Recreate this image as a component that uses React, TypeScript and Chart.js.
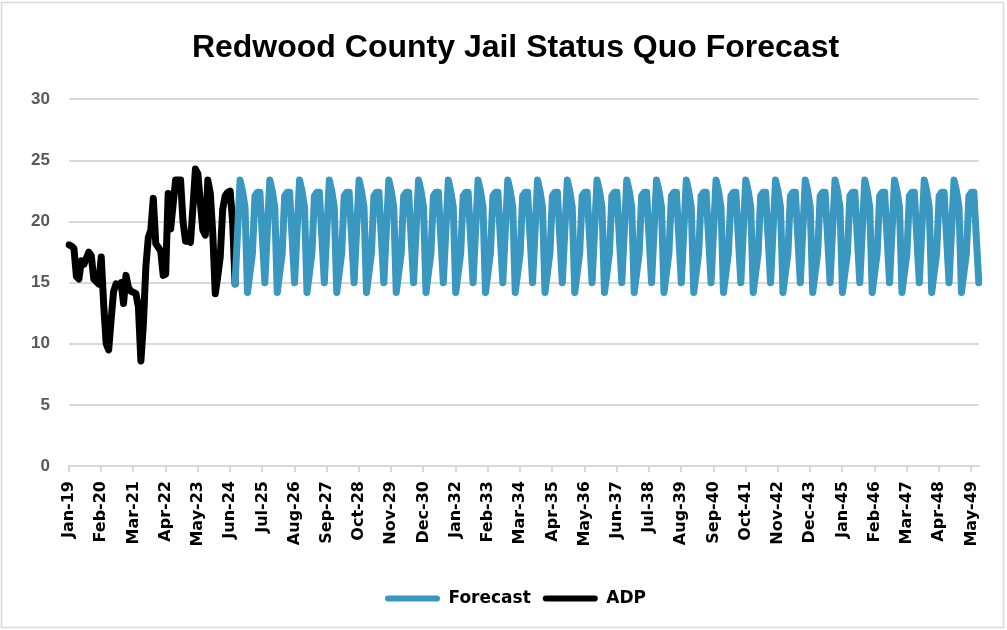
import React, { useEffect, useRef } from 'react';
import { Chart, registerables } from 'chart.js';

Chart.register(...registerables);

// ---------- data ----------
const MONTH_NAMES = ['Jan', 'Feb', 'Mar', 'Apr', 'May', 'Jun', 'Jul', 'Aug', 'Sep', 'Oct', 'Nov', 'Dec'];
const FIRST_YEAR = 19; // Jan-19
const MONTH_COUNT = 368; // Jan-19 .. Aug-49
const TICK_EVERY = 13; // one label every 13 months

const monthLabels: string[] = Array.from({ length: MONTH_COUNT }, (_, i) =>
  `${MONTH_NAMES[i % 12]}-${String(FIRST_YEAR + Math.floor(i / 12)).padStart(2, '0')}`
);

// Actual average daily population, Jan-19 .. Aug-24
const adpValues: number[] = [
  18.1, 18.0, 17.8, 15.5, 15.3, 16.8, 16.5, 17.0, 17.5, 17.2, 15.3, 15.1,
  14.9, 17.1, 13.2, 10.0, 9.5, 12.0, 14.3, 14.9, 14.8, 15.0, 13.3, 15.6,
  14.6, 14.3, 14.2, 14.1, 13.0, 8.6, 11.6, 16.3, 18.7, 19.3, 21.9, 18.2,
  17.9, 17.6, 15.6, 15.7, 22.3, 19.4, 21.4, 23.4, 23.4, 23.4, 20.0, 18.4,
  18.4, 18.3, 21.2, 24.3, 23.9, 21.5, 19.3, 18.9, 23.4, 22.3, 19.0, 14.1,
  15.5, 17.1, 21.0, 22.1, 22.4, 22.5, 20.0, 14.9,
];

// Status quo forecast: seasonal monthly profile (Jan .. Dec) repeated each year
const forecastByMonth: number[] = [14.2, 15.8, 17.4, 22.1, 22.4, 22.4, 18.7, 15.0, 19.2, 23.4, 22.5, 21.2];
const forecastStart = adpValues.length - 1; // joins the last actual month

const adpSeries: (number | null)[] = monthLabels.map((_, i) => (i < adpValues.length ? adpValues[i] : null));
const forecastSeries: (number | null)[] = monthLabels.map((_, i) =>
  i < forecastStart ? null : i === forecastStart ? adpValues[forecastStart] : forecastByMonth[i % 12]
);

const TITLE = 'Redwood County Jail Status Quo Forecast';
const FORECAST_COLOR = '#3A97BF';
const ADP_COLOR = '#000000';
const GRID_COLOR = '#D9D9D9';
const FONT = "'Liberation Sans', 'DejaVu Sans', sans-serif";
const WIDE_FONT = "'DejaVu Sans', 'Liberation Sans', sans-serif";
const BLOCK_SHIFT = 22; // title & legend are centred a little right of the canvas centre

export default function App() {
  const canvasRef = useRef<HTMLCanvasElement | null>(null);

  useEffect(() => {
    document.body.style.margin = '0';
    const canvas = canvasRef.current;
    if (!canvas) return;

    const frame = {
      id: 'frame',
      beforeDraw(chart: any) {
        const { ctx, width, height } = chart;
        ctx.save();
        ctx.fillStyle = '#ffffff';
        ctx.fillRect(0, 0, width, height);
        ctx.strokeStyle = GRID_COLOR;
        ctx.lineWidth = 1.5;
        ctx.strokeRect(1.5, 2.5, width - 5, height - 5);
        ctx.restore();
      },
      afterLayout(chart: any) {
        for (const box of [chart.legend, chart.titleBlock]) {
          if (box) {
            box.left += BLOCK_SHIFT;
            box.right += BLOCK_SHIFT;
          }
        }
      },
    };

    const chart = new Chart(canvas, {
      type: 'line',
      data: {
        labels: monthLabels,
        datasets: [
          {
            label: 'Forecast',
            data: forecastSeries,
            borderColor: FORECAST_COLOR,
            backgroundColor: FORECAST_COLOR,
            borderWidth: 7,
            pointRadius: 0,
            tension: 0,
            borderCapStyle: 'round',
            borderJoinStyle: 'round',
            spanGaps: false,
          },
          {
            label: 'ADP',
            data: adpSeries,
            borderColor: ADP_COLOR,
            backgroundColor: ADP_COLOR,
            borderWidth: 7,
            pointRadius: 0,
            tension: 0,
            borderCapStyle: 'round',
            borderJoinStyle: 'round',
            spanGaps: false,
          },
        ],
      },
      options: {
        animation: false,
        responsive: true,
        maintainAspectRatio: false,
        layout: { padding: { left: 0, right: 20, top: 0, bottom: 13 } },
        plugins: {
          title: {
            display: true,
            text: TITLE,
            color: '#000000',
            font: { family: FONT, size: 32, weight: 'bold' },
            padding: { top: 29, bottom: 32 },
          },
          legend: {
            position: 'bottom',
            labels: {
              color: '#000000',
              font: { family: WIDE_FONT, size: 17, weight: 'bold' },
              boxWidth: 55,
              boxHeight: 6,
              padding: 12,
              useBorderRadius: true,
              borderRadius: 3,
              generateLabels(chart: any) {
                return chart.data.datasets.map((ds: any, i: number) => ({
                  text: ds.label,
                  fillStyle: ds.borderColor,
                  strokeStyle: ds.borderColor,
                  lineWidth: 0,
                  hidden: false,
                  datasetIndex: i,
                  borderRadius: 3,
                  fontColor: '#000000',
                }));
              },
            },
          },
          tooltip: { enabled: false },
        },
        scales: {
          x: {
            type: 'category',
            afterFit(scale: any) {
              scale.height = 112;
            },
            grid: {
              drawOnChartArea: false,
              drawTicks: true,
              tickLength: 6,
              lineWidth: 2,
              tickColor: (ctx: any) => (ctx.index % TICK_EVERY === 0 ? GRID_COLOR : 'rgba(0,0,0,0)'),
            },
            border: { display: true, color: GRID_COLOR, width: 2 },
            ticks: {
              autoSkip: false,
              minRotation: 90,
              maxRotation: 90,
              padding: 9,
              color: '#000000',
              font: { family: WIDE_FONT, size: 16, weight: 'bold' },
              callback: (_v: any, i: number) => (i % TICK_EVERY === 0 ? monthLabels[i] : ''),
            },
          },
          y: {
            min: 0,
            max: 30,
            afterFit(scale: any) {
              scale.width = 69;
            },
            grid: { color: GRID_COLOR, lineWidth: 2, drawTicks: false },
            border: { display: false },
            ticks: {
              stepSize: 5,
              padding: 19,
              color: '#595959',
              font: { family: FONT, size: 17, weight: 'bold' },
            },
          },
        },
      },
      plugins: [frame],
    });

    return () => chart.destroy();
  }, []);

  return (
    <div style={{ width: 1007, height: 630, position: 'relative' }}>
      <canvas ref={canvasRef} />
    </div>
  );
}
